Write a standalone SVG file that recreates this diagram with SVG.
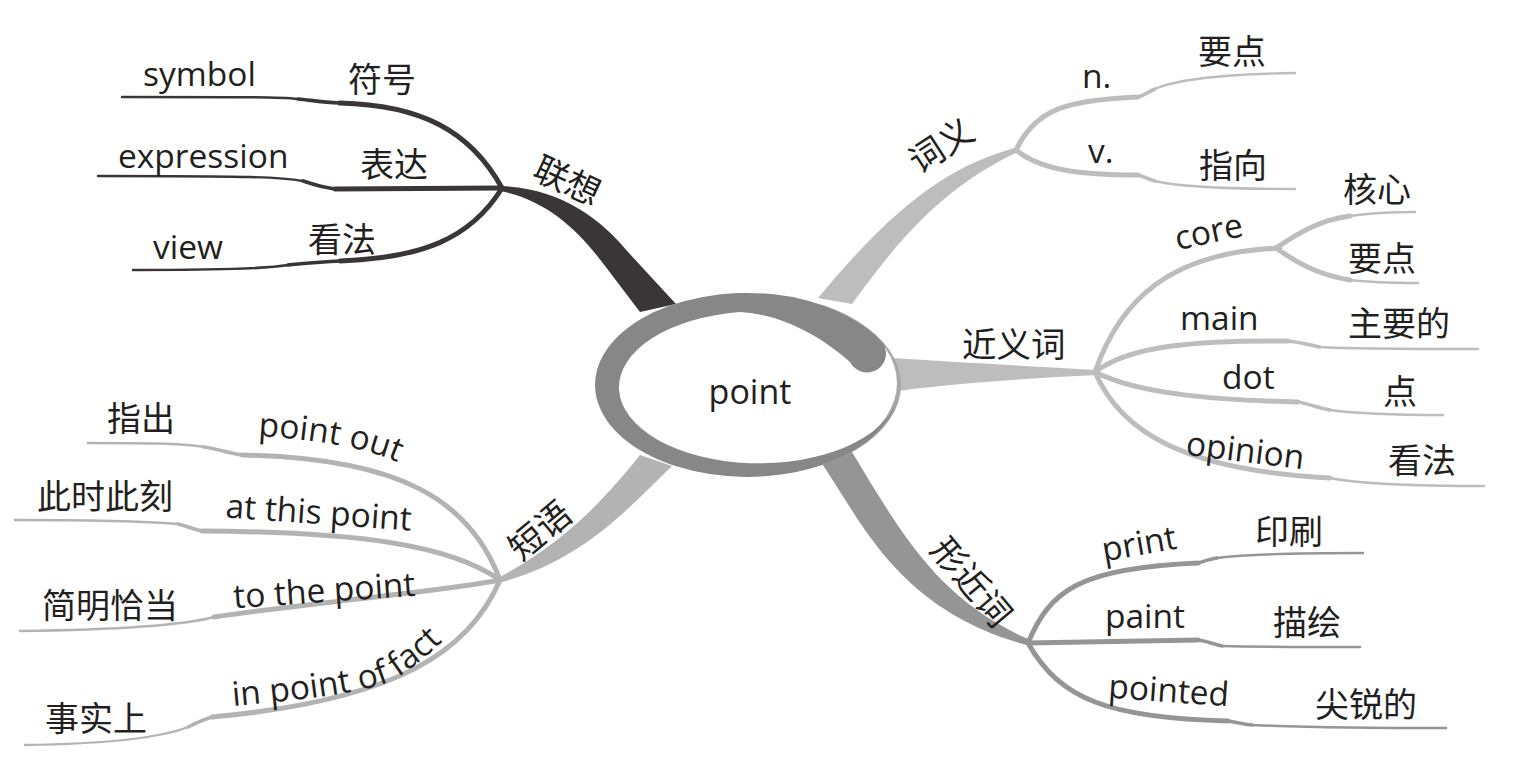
<svg xmlns="http://www.w3.org/2000/svg" width="1526" height="757" viewBox="0 0 1526 757">
<style>
.en{font-family:"Open Sans","Noto Sans",sans-serif;font-size:33.5px;fill:#231f20}
.cn{font-family:"Noto Sans CJK SC","Noto Sans",sans-serif;font-size:34px;fill:#231f20}
.mc{font-family:"Noto Sans CJK SC","Noto Sans",sans-serif;font-size:34.5px;fill:#231f20}
.s{fill:none;stroke-linecap:round;stroke-linejoin:round}
.dk{stroke:#3a3536}
.lg{stroke:#bdbdbd}
.ph{stroke:#b3b3b3}
.md{stroke:#959595}
.w5{stroke-width:5}
.w4{stroke-width:3.6}
.w3{stroke-width:2.4}
</style>
<defs>
  <path id="p-pof" d="M233 706 C300 700 380 692 400 676 C420 662 432 652 450 634"/>
  <path id="p-po" d="M258 436 C320 440 372 448 410 468"/>
</defs>
<rect width="1526" height="757" fill="#ffffff"/>
<g id="connectors">
  <path d="M500 186 C560 188 600 218 628 252 L676 304 L640 312 L602 262 C576 228 545 200 500 191 Z" fill="#3a3536"/>
  <path class="s dk w5" d="M502 188 C470 130 420 105 340 103"/>
  <path class="s dk w4" d="M340 103 C320 102 310 100 298 99"/>
  <path class="s dk w3" d="M298 99 C280 97 250 97 122 97"/>
  <path class="s dk w5" d="M502 188 L335 189"/>
  <path class="s dk w4" d="M335 189 C320 187 312 184 303 181"/>
  <path class="s dk w3" d="M303 181 C280 177 250 176 98 176"/>
  <path class="s dk w5" d="M502 188 C470 240 420 258 340 261"/>
  <path class="s dk w4" d="M340 261 C315 262 300 264 288 265"/>
  <path class="s dk w3" d="M288 265 C270 268 240 270 133 270"/>
  <path d="M1018 147 C950 165 895 205 818 298 L852 304 C888 255 935 190 1018 152 Z" fill="#bdbdbd"/>
  <path class="s lg w5" d="M1016 150 C1035 110 1065 100 1138 97"/>
  <path class="s lg w4" d="M1138 97 C1145 95 1148 92 1155 89"/>
  <path class="s lg w3" d="M1155 89 C1180 78 1230 74 1295 73"/>
  <path class="s lg w5" d="M1016 150 C1040 170 1080 175 1138 175"/>
  <path class="s lg w4" d="M1138 175 C1145 177 1148 179 1155 181"/>
  <path class="s lg w3" d="M1155 181 C1180 187 1230 189 1295 189"/>
  <path d="M893 358 C950 362 1030 366 1097 370 L1097 375 C1030 378 950 384 898 391 Z" fill="#bdbdbd"/>
  <path class="s lg w5" d="M1095 372 C1120 300 1170 252 1280 248"/>
  <path class="s lg w5" d="M1276 248 C1300 232 1320 220 1350 216"/>
  <path class="s lg w3" d="M1350 216 C1370 213 1390 212 1415 212"/>
  <path class="s lg w5" d="M1276 248 C1300 265 1320 275 1350 280"/>
  <path class="s lg w3" d="M1350 280 C1375 283 1395 283 1418 283"/>
  <path class="s lg w5" d="M1095 372 C1130 345 1200 340 1288 341"/>
  <path class="s lg w4" d="M1288 341 C1300 342 1308 345 1320 347"/>
  <path class="s lg w3" d="M1320 347 C1350 349 1400 349 1478 349"/>
  <path class="s lg w5" d="M1095 372 C1140 395 1220 400 1298 402"/>
  <path class="s lg w4" d="M1298 402 C1310 404 1318 408 1330 410"/>
  <path class="s lg w3" d="M1330 410 C1360 414 1400 415 1443 415"/>
  <path class="s lg w5" d="M1095 372 C1120 430 1180 470 1330 478"/>
  <path class="s lg w3" d="M1330 478 C1360 484 1420 486 1484 486"/>
  <path d="M818 458 C862 520 895 610 1030 646 L1030 640 C940 600 905 540 852 452 Z" fill="#959595"/>
  <path class="s md w5" d="M1028 643 C1050 590 1080 568 1198 563"/>
  <path class="s md w4" d="M1198 563 C1205 561 1210 559 1217 558"/>
  <path class="s md w3" d="M1217 558 C1250 554 1300 553 1363 553"/>
  <path class="s md w5" d="M1028 643 L1198 640"/>
  <path class="s md w4" d="M1198 640 C1207 641 1212 644 1222 646"/>
  <path class="s md w3" d="M1222 646 C1260 647 1300 647 1360 647"/>
  <path class="s md w5" d="M1028 643 C1060 700 1110 718 1228 721"/>
  <path class="s md w4" d="M1228 721 C1236 722 1242 724 1252 725"/>
  <path class="s md w3" d="M1252 725 C1300 727 1380 728 1446 728"/>
  <path d="M640 455 C610 492 570 540 498 578 L498 583 C580 562 625 512 672 466 Z" fill="#b3b3b3"/>
  <path class="s ph w5" d="M500 580 C470 500 400 458 242 455"/>
  <path class="s ph w4" d="M242 455 C228 453 218 449 204 447"/>
  <path class="s ph w3" d="M204 447 C180 443 140 443 88 443"/>
  <path class="s ph w5" d="M500 580 C450 545 360 532 202 531"/>
  <path class="s ph w4" d="M202 531 C192 529 187 526 178 524"/>
  <path class="s ph w3" d="M178 524 C140 521 80 520 15 520"/>
  <path class="s ph w5" d="M500 580 C440 592 330 600 214 617"/>
  <path class="s ph w3" d="M214 617 C180 626 100 630 20 631"/>
  <path class="s ph w5" d="M500 580 C470 650 400 700 212 717"/>
  <path class="s ph w4" d="M212 717 C202 720 196 723 188 727"/>
  <path class="s ph w3" d="M188 727 C160 738 100 744 25 745"/>
</g>
<g id="center">
  <ellipse cx="751" cy="385" rx="150" ry="91" fill="#a8a8a8"/>
  <ellipse cx="748" cy="383" rx="149" ry="90" fill="#ffffff"/>
  <path d="M884 345 A152 92 0 1 0 897 400 A140 76 0 1 1 740 312 C780 314 820 335 850 362 A18 18 0 0 0 884 345 Z" fill="#878787"/>
  <text x="750" y="404" text-anchor="middle" style="font-family:'Open Sans','Noto Sans',sans-serif;font-size:34px;fill:#231f20">point</text>
</g>
<g id="n-lianxiang"><text class="mc" text-anchor="middle" transform="translate(562,192) rotate(25)">联想</text></g>
<g id="n-symbol"><text class="en" x="143" y="86">symbol</text><text class="cn" x="348" y="92">符号</text></g>
<g id="n-expression"><text class="en" x="118" y="168">expression</text><text class="cn" x="360" y="177">表达</text></g>
<g id="n-view"><text class="en" x="153" y="259">view</text><text class="cn" x="308" y="252">看法</text></g>
<g id="n-ciyi"><text class="mc" text-anchor="middle" transform="translate(948,156) rotate(-33)">词义</text></g>
<g id="n-n"><text class="en" x="1082" y="88">n.</text><text class="cn" x="1198" y="64">要点</text></g>
<g id="n-v"><text class="en" x="1088" y="163">v.</text><text class="cn" x="1199" y="178">指向</text></g>
<g id="n-jinyici"><text class="mc" x="962" y="357">近义词</text></g>
<g id="n-core"><text class="en" text-anchor="middle" transform="translate(1211,243) rotate(-12)">core</text></g>
<g id="n-hexin"><text class="cn" x="1343" y="202">核心</text></g>
<g id="n-yaodian"><text class="cn" x="1348" y="271">要点</text></g>
<g id="n-main"><text class="en" x="1180" y="330">main</text><text class="cn" x="1348" y="336">主要的</text></g>
<g id="n-dot"><text class="en" x="1222" y="389">dot</text><text class="cn" x="1383" y="404">点</text></g>
<g id="n-opinion"><text class="en" text-anchor="middle" transform="translate(1244,462) rotate(7)">opinion</text><text class="cn" x="1388" y="473">看法</text></g>
<g id="n-xingjinci"><text class="mc" text-anchor="middle" transform="translate(962,590) rotate(50)">形近词</text></g>
<g id="n-print"><text class="en" text-anchor="middle" transform="translate(1141,555) rotate(-10)">print</text><text class="cn" x="1255" y="544">印刷</text></g>
<g id="n-paint"><text class="en" x="1105" y="628">paint</text><text class="cn" x="1273" y="635">描绘</text></g>
<g id="n-pointed"><text class="en" text-anchor="middle" transform="translate(1168,702) rotate(4)">pointed</text><text class="cn" x="1315" y="717">尖锐的</text></g>
<g id="n-duanyu"><text class="mc" text-anchor="middle" transform="translate(548,540) rotate(-40)">短语</text></g>
<g id="n-pointout"><text class="en"><textPath href="#p-po">point out</textPath></text><text class="cn" x="107" y="431">指出</text></g>
<g id="n-atthispoint"><text class="en" text-anchor="middle" transform="translate(318,524) rotate(4)">at this point</text><text class="cn" x="37" y="509">此时此刻</text></g>
<g id="n-tothepoint"><text class="en" text-anchor="middle" transform="translate(325,602) rotate(-4)">to the point</text><text class="cn" x="42" y="618">简明恰当</text></g>
<g id="n-inpointoffact"><text class="en"><textPath href="#p-pof">in point of fact</textPath></text><text class="cn" x="45" y="731">事实上</text></g>
</svg>
